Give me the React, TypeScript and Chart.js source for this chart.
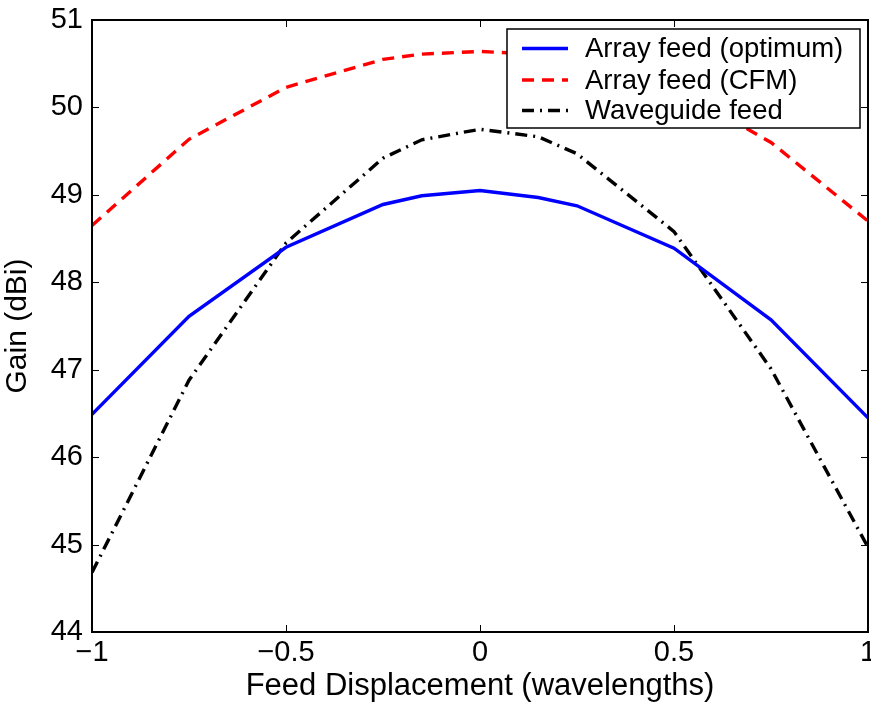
import React, { useEffect, useRef } from "react";
import { Chart, registerables } from "chart.js";

Chart.register(...registerables);

const displacement = [-1, -0.75, -0.5, -0.25, -0.15, 0, 0.15, 0.25, 0.5, 0.75, 1];
const arrayOptimum = [46.49, 47.61, 48.4, 48.89, 48.99, 49.05, 48.97, 48.875, 48.39, 47.57, 46.45];
const arrayCFM = [48.65, 49.635, 50.23, 50.55, 50.61, 50.64, 50.61, 50.55, 50.23, 49.6, 48.7];
const waveguide = [44.68, 46.88, 48.45, 49.42, 49.63, 49.75, 49.665, 49.47, 48.58, 47.01, 44.97];
const xTicks = [-1, -0.5, 0, 0.5, 1];
const yTicks = [44, 45, 46, 47, 48, 49, 50, 51];
const seriesNames = ["Array feed (optimum)", "Array feed (CFM)", "Waveguide feed"];

const FONT = "Liberation Sans, Arial, Helvetica, sans-serif";

const fmt = (v: number) => (v < 0 ? "\u2212" + String(Math.abs(v)) : String(v));

const framePlugin = {
  id: "frame",
  afterDatasetsDraw(chart: any) {
    const { ctx, chartArea } = chart;
    const { left, right, top, bottom } = chartArea;
    const xs = chart.scales.x;
    const ys = chart.scales.y;
    const tl = 7;
    ctx.save();
    ctx.strokeStyle = "#000";
    ctx.lineWidth = 1;
    ctx.setLineDash([]);
    ctx.beginPath();
    for (const v of xTicks) {
      const px = Math.round(xs.getPixelForValue(v)) + 0.5;
      ctx.moveTo(px, bottom);
      ctx.lineTo(px, bottom - tl);
      ctx.moveTo(px, top);
      ctx.lineTo(px, top + tl);
    }
    for (const v of yTicks) {
      const py = Math.round(ys.getPixelForValue(v)) + 0.5;
      ctx.moveTo(left, py);
      ctx.lineTo(left + tl, py);
      ctx.moveTo(right, py);
      ctx.lineTo(right - tl, py);
    }
    ctx.stroke();
    ctx.lineWidth = 2;
    ctx.strokeRect(left, top, right - left, bottom - top);

    // legend
    const lx = 507, ly = 29, lw = 353, lh = 99;
    ctx.fillStyle = "#fff";
    ctx.fillRect(lx, ly, lw, lh);
    ctx.lineWidth = 1.5;
    ctx.strokeStyle = "#000";
    ctx.strokeRect(lx, ly, lw, lh);
    const rows = [48.5, 80, 110.5];
    chart.data.datasets.forEach((ds: any, i: number) => {
      const y = rows[i];
      ctx.save();
      ctx.strokeStyle = ds.borderColor;
      ctx.lineWidth = ds.borderWidth;
      ctx.setLineDash(ds.borderDash || []);
      ctx.lineCap = "butt";
      ctx.beginPath();
      ctx.moveTo(522, y);
      ctx.lineTo(568, y);
      ctx.stroke();
      ctx.restore();
      ctx.fillStyle = "#000";
      ctx.font = "27.5px " + FONT;
      ctx.textBaseline = "middle";
      ctx.textAlign = "left";
      ctx.fillText(ds.label, 585, y + 1);
    });
    ctx.restore();
  },
};

export default function App() {
  const ref = useRef<HTMLCanvasElement>(null);
  useEffect(() => {
    document.body.style.margin = "0";
    const mk = (arr: number[]) => displacement.map((x, i) => ({ x, y: arr[i] }));
    const chart = new Chart(ref.current as HTMLCanvasElement, {
      type: "line",
      data: {
        datasets: [
          { label: seriesNames[0], data: mk(arrayOptimum), borderColor: "#0000ff", borderWidth: 3.4, pointRadius: 0, fill: false, tension: 0 },
          { label: seriesNames[1], data: mk(arrayCFM), borderColor: "#ff0000", borderWidth: 3.4, borderDash: [12, 8], pointRadius: 0, fill: false, tension: 0 },
          { label: seriesNames[2], data: mk(waveguide), borderColor: "#000000", borderWidth: 3.4, borderDash: [12, 6, 2, 6], pointRadius: 0, fill: false, tension: 0 },
        ],
      },
      options: {
        responsive: false,
        animation: false,
        layout: { padding: { top: 20, right: 3, left: 0, bottom: 0 } },
        plugins: { legend: { display: false }, tooltip: { enabled: false } },
        scales: {
          x: {
            type: "linear",
            min: -1,
            max: 1,
            afterBuildTicks: (s: any) => { s.ticks = xTicks.map((v) => ({ value: v })); },
            afterFit: (s: any) => { s.height = 73; s.paddingLeft = 0; s.paddingRight = 0; },
            grid: { display: false, drawTicks: false },
            border: { display: false },
            ticks: { color: "#000", font: { family: FONT, size: 29 }, padding: 4, maxRotation: 0, autoSkip: false, callback: (v: any) => fmt(Number(v)) },
            title: { display: true, text: "Feed Displacement (wavelengths)", color: "#000", font: { family: FONT, size: 31 }, padding: { top: -4, bottom: 0 } },
          },
          y: {
            type: "linear",
            min: 44,
            max: 51,
            afterBuildTicks: (s: any) => { s.ticks = yTicks.map((v) => ({ value: v })); },
            afterFit: (s: any) => { s.width = 92; s.paddingTop = 0; s.paddingBottom = 0; },
            grid: { display: false, drawTicks: false },
            border: { display: false },
            ticks: { color: "#000", font: { family: FONT, size: 29 }, padding: 9, autoSkip: false, callback: (v: any) => fmt(Number(v)) },
            title: { display: true, text: "Gain (dBi)", color: "#000", font: { family: FONT, size: 30 }, padding: { top: 0, bottom: 0 } },
          },
        },
      },
      plugins: [framePlugin],
    } as any);
    return () => chart.destroy();
  }, []);
  return (
    <div style={{ width: 871, height: 705, background: "#fff" }}>
      <canvas ref={ref} width={871} height={705} style={{ display: "block" }} />
    </div>
  );
}
